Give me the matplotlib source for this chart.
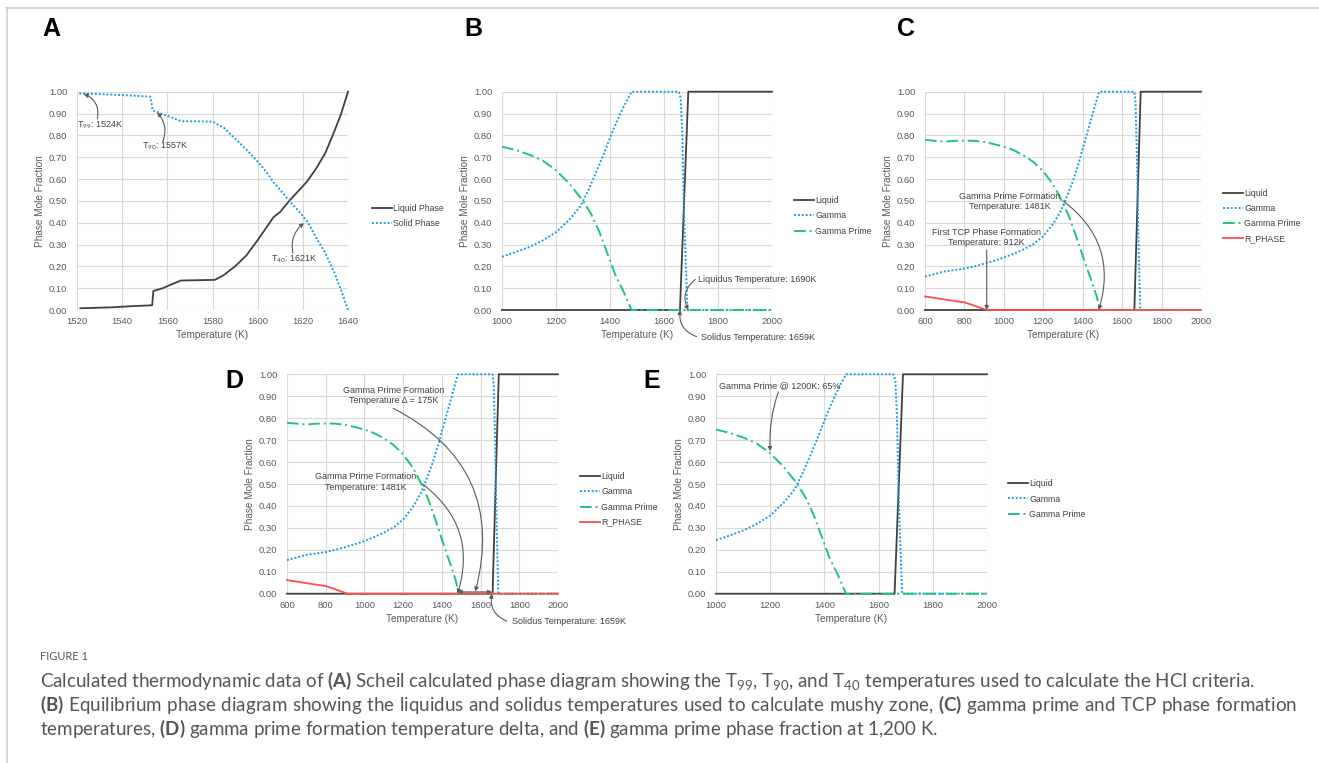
import matplotlib
matplotlib.use("Agg")
import numpy as np
import matplotlib.pyplot as plt
from matplotlib.lines import Line2D

plt.rcParams["font.family"] = ["Liberation Sans", "DejaVu Sans"]
plt.rcParams["mathtext.fontset"] = "custom"
plt.rcParams["mathtext.rm"] = "Lato"
plt.rcParams["mathtext.bf"] = "Lato:bold"
plt.rcParams["mathtext.it"] = "Lato:italic"

W, H = 1319, 763

# --- Panel A: Scheil ---
a_liq_T = [1521.5, 1535, 1545, 1552, 1553.3, 1553.8, 1558, 1562, 1566, 1581, 1585, 1590, 1595,
           1600, 1604, 1607, 1610, 1614, 1618, 1622, 1626, 1630, 1634, 1637, 1640]
a_liq_F = [0.008, 0.012, 0.018, 0.021, 0.022, 0.087, 0.10, 0.118, 0.135, 0.138, 0.16, 0.20, 0.25,
           0.32, 0.38, 0.425, 0.45, 0.50, 0.545, 0.59, 0.65, 0.72, 0.82, 0.90, 1.0]
a_sol_T = [1521, 1535, 1545, 1552.5, 1553.5, 1556, 1560, 1566, 1580, 1585, 1590, 1595, 1600,
           1604, 1607, 1610, 1614, 1618, 1622, 1626, 1630, 1634, 1637, 1640]
a_sol_F = [0.992, 0.987, 0.982, 0.977, 0.915, 0.905, 0.89, 0.865, 0.863, 0.835, 0.785, 0.735, 0.68,
           0.63, 0.585, 0.55, 0.50, 0.455, 0.405, 0.33, 0.26, 0.17, 0.09, 0.0]

# --- Panels B / E: equilibrium, alloy 1 ---
b_liq_T = [1000, 1659, 1690, 2000]
b_liq_F = [0.0, 0.0, 1.0, 1.0]
b_gam_T = [1000, 1050, 1100, 1150, 1200, 1250, 1290, 1320, 1350, 1380, 1410, 1440, 1465, 1480,
           1655, 1662, 1668, 1673, 1678, 1684, 1687, 2000]
b_gam_F = [0.244, 0.265, 0.288, 0.318, 0.356, 0.415, 0.475, 0.55, 0.635, 0.725, 0.82, 0.905, 0.965, 1.0,
           1.0, 0.97, 0.8, 0.5, 0.3, 0.1, 0.0, 0.0]
b_gp_T = [1000, 1050, 1100, 1150, 1200, 1250, 1300, 1330, 1360, 1390, 1420, 1450, 1480, 2000]
b_gp_F = [0.748, 0.733, 0.712, 0.685, 0.64, 0.578, 0.50, 0.44, 0.36, 0.26, 0.16, 0.085, 0.0, 0.0]

# --- Panels C / D: equilibrium, alloy 2 ---
c_liq_T = [600, 1662, 1694, 2000]
c_liq_F = [0.0, 0.0, 1.0, 1.0]
c_gam_T = [600, 650, 700, 750, 800, 850, 900, 950, 1000, 1050, 1100, 1150, 1200, 1250, 1290, 1320,
           1350, 1380, 1410, 1440, 1465, 1483, 1662, 1668, 1675, 1682, 1692, 2000]
c_gam_F = [0.153, 0.165, 0.177, 0.183, 0.19, 0.2, 0.212, 0.225, 0.24, 0.258, 0.278, 0.302, 0.338, 0.395,
           0.455, 0.52, 0.59, 0.675, 0.77, 0.865, 0.945, 1.0, 1.0, 0.95, 0.7, 0.35, 0.0, 0.0]
c_gp_T = [600, 650, 700, 750, 800, 850, 900, 950, 1000, 1050, 1100, 1150, 1200, 1250, 1300, 1330,
          1360, 1390, 1420, 1450, 1470, 1488, 2000]
c_gp_F = [0.779, 0.775, 0.771, 0.775, 0.776, 0.775, 0.77, 0.76, 0.748, 0.732, 0.708, 0.678, 0.635,
          0.575, 0.49, 0.43, 0.355, 0.275, 0.195, 0.12, 0.065, 0.0, 0.0]
c_rp_T = [600, 700, 800, 850, 912, 2000]
c_rp_F = [0.062, 0.048, 0.035, 0.02, 0.0, 0.0]

caption_lines = [
    r"Calculated thermodynamic data of $\mathbf{(A)}$ Scheil calculated phase diagram showing the "
    r"T$_{99}$, T$_{90}$, and T$_{40}$ temperatures used to calculate the HCI criteria.",
    r"$\mathbf{(B)}$ Equilibrium phase diagram showing the liquidus and solidus temperatures used to "
    r"calculate mushy zone, $\mathbf{(C)}$ gamma prime and TCP phase formation",
    r"temperatures, $\mathbf{(D)}$ gamma prime formation temperature delta, and $\mathbf{(E)}$ "
    r"gamma prime phase fraction at 1,200 K.",
]

# line styles (Excel look)
LIQ = dict(color="#404040", lw=1.3, ls="-")
GAM = dict(color="#1f9be0", lw=1.4, ls=(0, (1, 1)))
GP = dict(color="#21c47a", lw=1.4, ls=(0, (6, 2, 1, 2)))
RP = dict(color="#ff4d4d", lw=1.3, ls="-")

TXT = "#404040"
ARW = "#5a5a5a"

fig = plt.figure(figsize=(W / 100, H / 100), dpi=100)


def px_axes(x0, y0, x1, y1):
    return fig.add_axes([x0 / W, 1 - y1 / H, (x1 - x0) / W, (y1 - y0) / H])


def style(ax, xlim, step):
    ax.set_xlim(*xlim)
    ax.set_ylim(0, 1)
    ax.set_xticks(np.arange(xlim[0], xlim[1] + 1, step))
    ax.set_yticks(np.arange(0, 1.001, 0.1))
    ax.set_yticklabels([f"{v:.2f}" for v in np.arange(0, 1.001, 0.1)])
    for s in ax.spines.values():
        s.set_visible(False)
    ax.grid(True, color="#d9d9d9", lw=0.8)
    ax.set_axisbelow(True)
    ax.tick_params(length=0, labelsize=6.8, colors="#595959")
    ax.tick_params(axis="y", pad=7)
    ax.tick_params(axis="x", pad=5)
    ax.set_xlabel("Temperature (K)", fontsize=7.2, color="#595959", labelpad=3)
    ax.set_ylabel("Phase Mole Fraction", fontsize=7.2, color="#595959", labelpad=3)


def legend(ax, handles, labels, x, y):
    ax.legend(handles, labels, loc="center left", bbox_to_anchor=(x / W, 1 - y / H),
              bbox_transform=fig.transFigure, frameon=False, fontsize=6.3,
              handlelength=2.3, handletextpad=0.15, labelspacing=0.7,
              borderpad=0, borderaxespad=0, labelcolor=TXT)


def arrow(ax, start, end, rad, head="-|>"):
    ax.annotate("", xy=end, xytext=start, annotation_clip=False,
                arrowprops=dict(arrowstyle=head, color=ARW, lw=0.8, mutation_scale=6,
                                shrinkA=0, shrinkB=0,
                                connectionstyle=f"arc3,rad={rad}"))


def note(ax, x, y, s, ha="left"):
    ax.text(x, y, s, fontsize=6.5, color=TXT, ha=ha, va="center", clip_on=False,
            linespacing=1.2)


# ---------- A ----------
ax = px_axes(77, 91.7, 348, 310)
style(ax, (1520, 1640), 20)
l1, = ax.plot(a_liq_T, a_liq_F, clip_on=False, **LIQ)
l2, = ax.plot(a_sol_T, a_sol_F, clip_on=False, **GAM)
legend(ax, [l1, l2], ["Liquid Phase", "Solid Phase"], 371.7, 216)
note(ax, 1520, 0.847, r"T$_{99}$: 1524K")
arrow(ax, (1529, 0.875), (1523, 0.99), 0.4)
note(ax, 1549, 0.748, r"T$_{90}$: 1557K")
arrow(ax, (1558, 0.771), (1555.5, 0.905), 0.3)
note(ax, 1606, 0.234, r"T$_{40}$: 1621K")
arrow(ax, (1615.6, 0.26), (1620.5, 0.398), -0.3)

# ---------- B ----------
ax = px_axes(502, 91.7, 772, 310)
style(ax, (1000, 2000), 200)
h = [ax.plot(b_liq_T, b_liq_F, clip_on=False, **LIQ)[0],
     ax.plot(b_gam_T, b_gam_F, clip_on=False, **GAM)[0],
     ax.plot(b_gp_T, b_gp_F, clip_on=False, **GP)[0]]
legend(ax, h, ["Liquid", "Gamma", "Gamma Prime"], 794, 216)
note(ax, 1727, 0.142, "Liquidus Temperature: 1690K")
arrow(ax, (1716, 0.14), (1690, 0.0), 0.4)
note(ax, 1737, -0.127, "Solidus Temperature: 1659K")
arrow(ax, (1721, -0.122), (1660, 0.0), -0.4)

# ---------- C ----------
ax = px_axes(925, 91.7, 1201, 310)
style(ax, (600, 2000), 200)
h = [ax.plot(c_liq_T, c_liq_F, clip_on=False, **LIQ)[0],
     ax.plot(c_gam_T, c_gam_F, clip_on=False, **GAM)[0],
     ax.plot(c_gp_T, c_gp_F, clip_on=False, **GP)[0],
     ax.plot(c_rp_T, c_rp_F, clip_on=False, **RP)[0]]
legend(ax, h, ["Liquid", "Gamma", "Gamma Prime", "R_PHASE"], 1222.7, 216)
note(ax, 1031, 0.497, "Gamma Prime Formation\nTemperature: 1481K", ha="center")
arrow(ax, (1300, 0.50), (1481, 0.0), -0.35)
note(ax, 913, 0.332, "First TCP Phase Formation\nTemperature: 912K", ha="center")
arrow(ax, (913, 0.275), (913, 0.0), 0.0)

# ---------- D ----------
ax = px_axes(287, 374.3, 558, 593.7)
style(ax, (600, 2000), 200)
h = [ax.plot(c_liq_T, c_liq_F, clip_on=False, **LIQ)[0],
     ax.plot(c_gam_T, c_gam_F, clip_on=False, **GAM)[0],
     ax.plot(c_gp_T, c_gp_F, clip_on=False, **GP)[0],
     ax.plot(c_rp_T, c_rp_F, clip_on=False, **RP)[0]]
legend(ax, h, ["Liquid", "Gamma", "Gamma Prime", "R_PHASE"], 580, 499.5)
note(ax, 1149, 0.903, "Gamma Prime Formation\nTemperature \u0394 = 175K", ha="center")
arrow(ax, (1149, 0.845), (1573, 0.01), -0.4)
arrow(ax, (1659, 0.008), (1481, 0.008), 0.0, head="<|-|>")
note(ax, 1008, 0.51, "Gamma Prime Formation\nTemperature: 1481K", ha="center")
arrow(ax, (1300, 0.50), (1481, 0.0), -0.35)
note(ax, 1761, -0.128, "Solidus Temperature: 1659K")
arrow(ax, (1735, -0.125), (1659, 0.0), -0.4)

# ---------- E ----------
ax = px_axes(716, 374.3, 987, 593.7)
style(ax, (1000, 2000), 200)
h = [ax.plot(b_liq_T, b_liq_F, clip_on=False, **LIQ)[0],
     ax.plot(b_gam_T, b_gam_F, clip_on=False, **GAM)[0],
     ax.plot(b_gp_T, b_gp_F, clip_on=False, **GP)[0]]
legend(ax, h, ["Liquid", "Gamma", "Gamma Prime"], 1008, 499)
note(ax, 1012, 0.948, "Gamma Prime @ 1200K: 65%")
arrow(ax, (1230, 0.92), (1200, 0.65), 0.1)

# panel letters
for lab, x, y in [("A", 42, 29), ("B", 464, 29), ("C", 897, 29), ("D", 225, 381), ("E", 643, 381)]:
    fig.text(x / W, 1 - y / H, lab, fontsize=18, fontweight="bold", color="black",
             ha="left", va="center")

# frame lines
fig.add_artist(Line2D([6 / W, 1], [1 - 7.5 / H, 1 - 7.5 / H], color="#d0d0d0", lw=1.2,
                      transform=fig.transFigure))
fig.add_artist(Line2D([6.5 / W, 6.5 / W], [0, 1 - 7.5 / H], color="#d0d0d0", lw=1.2,
                      transform=fig.transFigure))

# ---------- caption ----------
fig.text(40 / W, 1 - 657 / H, "FIGURE 1", fontsize=8, color="#555555",
         family="Lato", ha="left", va="center")

FS0 = 12
caps = [fig.text(40 / W, 1 - (687 + 24 * i) / H, s, fontsize=FS0, family="Lato",
                 color="#555555", ha="left", va="baseline")
        for i, s in enumerate(caption_lines)]
fig.canvas.draw()
rend = fig.canvas.get_renderer()
scale = 1215 / caps[0].get_window_extent(rend).width
for t in caps:
    t.set_fontsize(FS0 * scale)

# justify line 2 by widening the word gaps with mathtext \hspace
words2 = caption_lines[1].split(" ")


def spaced(e):
    return (" $\\hspace{%.4f}$" % e).join(words2) if e > 0 else caption_lines[1]


caps[1].set_text(spaced(0))
fig.canvas.draw()
w0 = caps[1].get_window_extent(rend).width
caps[1].set_text(spaced(0.2))
fig.canvas.draw()
w1 = caps[1].get_window_extent(rend).width
if w1 > w0 and w0 < 1257:
    caps[1].set_text(spaced(0.2 * (1257 - w0) / (w1 - w0)))
else:
    caps[1].set_text(spaced(0))

fig.savefig("out.png", dpi=100)
